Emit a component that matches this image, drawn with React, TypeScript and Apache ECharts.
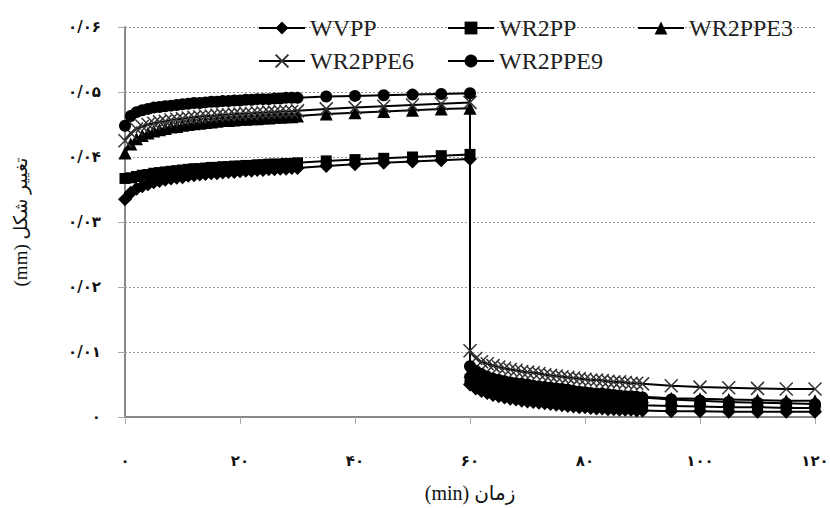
import React, { useEffect, useRef } from "react";
import * as echarts from "echarts";

const seriesNames = ["WVPP", "WR2PP", "WR2PPE3", "WR2PPE6", "WR2PPE9"];

const creepTimes = [0, 1, 2, 3, 4, 5, 6, 7, 8, 9, 10, 11, 12, 13, 14, 15, 16, 17, 18, 19, 20, 21, 22, 23, 24, 25, 26, 27, 28, 29, 30, 35, 40, 45, 50, 55, 60];
const recoveryTimes = [60, 61, 62, 63, 64, 65, 66, 67, 68, 69, 70, 71, 72, 73, 74, 75, 76, 77, 78, 79, 80, 81, 82, 83, 84, 85, 86, 87, 88, 89, 90, 95, 100, 105, 110, 115, 120];

const wvppCreep = [0.0335, 0.0345, 0.0351, 0.0355, 0.0358, 0.0361, 0.0363, 0.0365, 0.0367, 0.0368, 0.0369, 0.0371, 0.0372, 0.0373, 0.0374, 0.0375, 0.0375, 0.0376, 0.0377, 0.0377, 0.0378, 0.0379, 0.0379, 0.038, 0.038, 0.0381, 0.0381, 0.0382, 0.0382, 0.0383, 0.0383, 0.0386, 0.0389, 0.0391, 0.0393, 0.0395, 0.0397];
const wr2ppCreep = [0.0367, 0.0368, 0.037, 0.0372, 0.0373, 0.0375, 0.0376, 0.0377, 0.0378, 0.0379, 0.038, 0.0381, 0.0382, 0.0382, 0.0383, 0.0384, 0.0384, 0.0385, 0.0385, 0.0386, 0.0386, 0.0387, 0.0387, 0.0388, 0.0388, 0.0389, 0.0389, 0.0389, 0.039, 0.039, 0.0391, 0.0394, 0.0396, 0.0398, 0.04, 0.0402, 0.0404];
const e3Creep = [0.0406, 0.042, 0.0428, 0.0433, 0.0437, 0.044, 0.0442, 0.0444, 0.0446, 0.0447, 0.0449, 0.045, 0.0451, 0.0452, 0.0453, 0.0454, 0.0455, 0.0456, 0.0456, 0.0457, 0.0458, 0.0458, 0.0459, 0.0459, 0.046, 0.046, 0.0461, 0.0461, 0.0462, 0.0462, 0.0463, 0.0466, 0.0468, 0.047, 0.0472, 0.0474, 0.0475];
const e6Creep = [0.0425, 0.0437, 0.0443, 0.0447, 0.045, 0.0452, 0.0454, 0.0455, 0.0457, 0.0458, 0.0459, 0.046, 0.0461, 0.0462, 0.0463, 0.0463, 0.0464, 0.0465, 0.0465, 0.0466, 0.0466, 0.0467, 0.0467, 0.0468, 0.0468, 0.0469, 0.0469, 0.047, 0.047, 0.047, 0.0471, 0.0474, 0.0476, 0.0478, 0.048, 0.0482, 0.0484];
const e9Creep = [0.0448, 0.0463, 0.0469, 0.0472, 0.0474, 0.0476, 0.0477, 0.0478, 0.0479, 0.048, 0.0481, 0.0482, 0.0483, 0.0483, 0.0484, 0.0485, 0.0485, 0.0486, 0.0486, 0.0487, 0.0487, 0.0488, 0.0488, 0.0489, 0.0489, 0.0489, 0.049, 0.049, 0.0491, 0.0491, 0.0491, 0.0493, 0.0494, 0.0495, 0.0496, 0.0497, 0.0498];

const wvppRecovery = [0.005, 0.0044, 0.004, 0.0037, 0.0034, 0.0032, 0.003, 0.0028, 0.0027, 0.0025, 0.0024, 0.0023, 0.0022, 0.0021, 0.002, 0.0019, 0.0018, 0.0017, 0.0016, 0.0015, 0.0015, 0.0014, 0.0013, 0.0013, 0.0012, 0.0012, 0.0011, 0.0011, 0.0011, 0.001, 0.001, 0.0009, 0.0009, 0.0008, 0.0008, 0.0008, 0.0008];
const wr2ppRecovery = [0.0058, 0.0052, 0.0048, 0.0045, 0.0043, 0.0041, 0.0039, 0.0038, 0.0036, 0.0035, 0.0034, 0.0033, 0.0032, 0.0031, 0.003, 0.0029, 0.0028, 0.0027, 0.0026, 0.0025, 0.0024, 0.0023, 0.0023, 0.0022, 0.0021, 0.0021, 0.002, 0.002, 0.0019, 0.0019, 0.0018, 0.0017, 0.0016, 0.0015, 0.0015, 0.0014, 0.0014];
const e3Recovery = [0.007, 0.0064, 0.006, 0.0057, 0.0055, 0.0053, 0.0051, 0.005, 0.0048, 0.0047, 0.0046, 0.0045, 0.0044, 0.0043, 0.0042, 0.0041, 0.004, 0.0039, 0.0038, 0.0037, 0.0037, 0.0036, 0.0035, 0.0035, 0.0034, 0.0033, 0.0033, 0.0032, 0.0032, 0.0031, 0.0031, 0.0029, 0.0028, 0.0027, 0.0026, 0.0025, 0.0025];
const e6Recovery = [0.0102, 0.009, 0.0085, 0.0082, 0.0079, 0.0077, 0.0075, 0.0073, 0.0072, 0.007, 0.0069, 0.0068, 0.0067, 0.0065, 0.0064, 0.0063, 0.0062, 0.0061, 0.006, 0.0059, 0.0058, 0.0057, 0.0057, 0.0056, 0.0055, 0.0054, 0.0054, 0.0053, 0.0052, 0.0052, 0.0051, 0.0048, 0.0046, 0.0045, 0.0044, 0.0043, 0.0043];
const e9Recovery = [0.0078, 0.0071, 0.0066, 0.0062, 0.0059, 0.0057, 0.0055, 0.0053, 0.0052, 0.0051, 0.005, 0.0048, 0.0047, 0.0046, 0.0045, 0.0044, 0.0043, 0.0042, 0.004, 0.0039, 0.0038, 0.0037, 0.0036, 0.0036, 0.0035, 0.0034, 0.0033, 0.0032, 0.0032, 0.0031, 0.003, 0.0027, 0.0025, 0.0023, 0.0022, 0.0021, 0.002];

const xTickLabels = ["۰", "۲۰", "۴۰", "۶۰", "۸۰", "۱۰۰", "۱۲۰"];
const yTickLabels = ["۰", "۰/۰۱", "۰/۰۲", "۰/۰۳", "۰/۰۴", "۰/۰۵", "۰/۰۶"];
const xTitle = "زمان (min)";
const yTitle = "تغییر شکل (mm)";

const RLE = "\u202B";
const PDF = "\u202C";

function pts(c: number[], r: number[]) {
  return [
    ...creepTimes.map((t, i) => [t, c[i]]),
    ...recoveryTimes.map((t, i) => [t, r[i]]),
  ];
}

export default function App() {
  const ref = useRef<HTMLDivElement>(null);
  useEffect(() => {
    if (!ref.current) return;
    const chart = echarts.init(ref.current, null, { renderer: "svg" });
    const symbols = ["diamond", "rect", "triangle", "path://M0,0L10,10M10,0L0,10", "circle"];
    const sizes = [14, 11, 13, 13, 12];
    const data = [
      pts(wvppCreep, wvppRecovery),
      pts(wr2ppCreep, wr2ppRecovery),
      pts(e3Creep, e3Recovery),
      pts(e6Creep, e6Recovery),
      pts(e9Creep, e9Recovery),
    ];
    const legendPos = [
      { left: 258, top: 16 },
      { left: 447, top: 16 },
      { left: 637, top: 16 },
      { left: 258, top: 49 },
      { left: 447, top: 49 },
    ];
    const serif = "'Liberation Serif', 'Times New Roman', serif";
    const persian = "'DejaVu Sans', sans-serif";
    const titleFont = "'Liberation Serif', 'DejaVu Sans', serif";
    chart.setOption({
      animation: false,
      backgroundColor: "#fff",
      grid: { left: 125, right: 15, top: 27, bottom: 91, outerBoundsMode: "none", containLabel: false },
      legend: seriesNames.map((n, i) => ({
        data: [n],
        left: legendPos[i].left,
        top: legendPos[i].top,
        itemWidth: 46,
        itemHeight: 16,
        padding: 0,
        textStyle: { fontFamily: serif, fontSize: 24, color: "#222" },
        selectedMode: false,
      })),
      xAxis: {
        type: "value",
        min: 0,
        max: 120,
        interval: 20,
        name: RLE + xTitle + PDF,
        nameLocation: "middle",
        nameGap: 66,
        nameTextStyle: { fontFamily: titleFont, fontSize: 20, color: "#111" },
        axisLine: { show: true, lineStyle: { color: "#888", width: 2 } },
        axisTick: { show: true, length: 7, lineStyle: { color: "#aaa" } },
        axisLabel: {
          margin: 36,
          fontFamily: persian,
          fontSize: 15,
          fontWeight: "bold",
          color: "#111",
          formatter: (v: number) => xTickLabels[Math.round(v / 20)] ?? "",
        },
        splitLine: { show: false },
      },
      yAxis: {
        type: "value",
        min: 0,
        max: 0.06,
        interval: 0.01,
        name: RLE + yTitle + PDF,
        nameLocation: "middle",
        nameRotate: 90,
        nameGap: 95,
        nameTextStyle: { fontFamily: titleFont, fontSize: 19, color: "#111" },
        axisLine: { show: true, lineStyle: { color: "#888", width: 2 } },
        axisTick: { show: true, length: 7, lineStyle: { color: "#aaa" } },
        axisLabel: {
          margin: 24,
          fontFamily: persian,
          fontSize: 15,
          fontWeight: "bold",
          color: "#111",
          formatter: (v: number) => yTickLabels[Math.round(v / 0.01)] ?? "",
        },
        splitLine: { show: true, lineStyle: { color: "#999", type: [2, 2], width: 1 } },
      },
      series: seriesNames.map((n, i) => ({
        name: n,
        type: "line",
        data: data[i],
        symbol: symbols[i],
        symbolSize: sizes[i],
        showAllSymbol: true,
        lineStyle: { color: "#000", width: 2 },
        itemStyle:
          i === 3
            ? { color: "#333", borderColor: "#333", borderWidth: 1.5 }
            : { color: "#000", borderColor: "#000", borderWidth: 0 },
        emphasis: { disabled: true },
      })),
    });
    return () => chart.dispose();
  }, []);
  return (
    <div
      ref={ref}
      style={{ position: "absolute", left: 0, top: 0, width: 830, height: 508 }}
    />
  );
}
